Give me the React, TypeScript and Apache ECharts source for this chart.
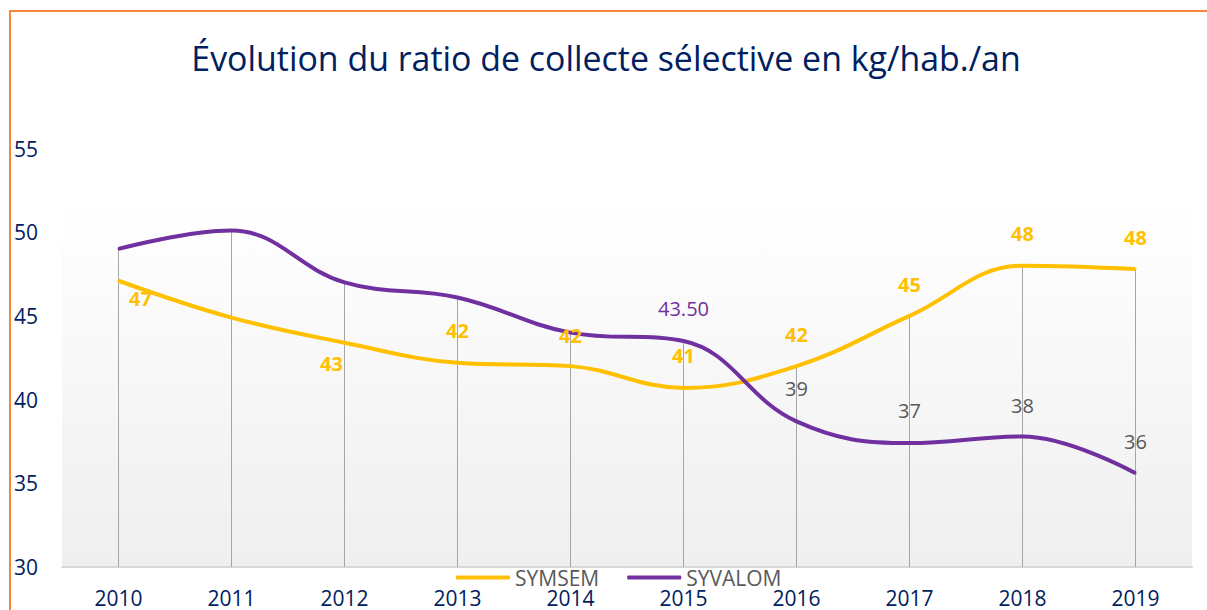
import React, { useEffect, useRef } from "react";
import * as echarts from "echarts";

// ---- Data ----
const years = ["2010", "2011", "2012", "2013", "2014", "2015", "2016", "2017", "2018", "2019"];
const symsem = [47.1, 44.9, 43.4, 42.2, 42.0, 40.7, 42.0, 45.0, 48.0, 47.8];
const syvalom = [49.0, 50.1, 47.0, 46.1, 44.0, 43.5, 38.7, 37.4, 37.8, 35.6];
const yMin = 30;
const yMax = 55;
const yStep = 5;
const titleText = "Évolution du ratio de collecte sélective en kg/hab./an";

// ---- Label placement (styling only) ----
const symsemLabelOffsets: ([number, number] | null)[] = [
  [22, 18], null, [-13, 21], [0, -32], [0, -31], [0, -32], [0, -32], [0, -31], [0, -32], [0, -32],
];
const syvalomLabelOffsets: ([number, number] | null)[] = [
  null, null, null, null, null, [0, -33], [0, -33], [0, -33], [0, -31], [0, -32],
];
const syvalomDecimals = [0, 0, 0, 0, 0, 2, 0, 0, 0, 0];

const FONT = "'Open Sans', 'Noto Sans', sans-serif";
const YELLOW = "#FFC000";
const PURPLE = "#7030A0";
const GRAY_TEXT = "#595959";
const NAVY = "#002060";

export default function App() {
  const ref = useRef<HTMLDivElement>(null);

  useEffect(() => {
    if (!ref.current) return;
    const chart = echarts.init(ref.current, null, { renderer: "svg" });

    const dropData = years.map((_, i) => [i, Math.max(symsem[i], syvalom[i])]);

    const symsemData = symsem.map((v, i) => {
      const off = symsemLabelOffsets[i];
      return {
        value: v,
        label: off
          ? { show: true, offset: off, formatter: v.toFixed(0) }
          : { show: false },
      };
    });
    const syvalomData = syvalom.map((v, i) => {
      const off = syvalomLabelOffsets[i];
      return {
        value: v,
        label: off
          ? {
              show: true,
              offset: off,
              formatter: v.toFixed(syvalomDecimals[i]),
              color: syvalomDecimals[i] > 0 ? PURPLE : GRAY_TEXT,
            }
          : { show: false },
      };
    });

    const option: any = {
      animation: false,
      backgroundColor: "#FFFFFF",
      textStyle: { fontFamily: FONT },
      graphic: [
        {
          type: "rect",
          z: -10,
          shape: { x: 62, y: 200, width: 1130, height: 367 },
          style: {
            fill: new echarts.graphic.LinearGradient(0, 0, 0, 1, [
              { offset: 0, color: "#FFFFFF" },
              { offset: 1, color: "#EFEFEF" },
            ]),
          },
          silent: true,
        },
        {
          type: "rect",
          shape: { x: 10, y: 11, width: 1400, height: 800 },
          style: { fill: "none", stroke: "#F4873E", lineWidth: 2 },
          silent: true,
        },
        {
          type: "text",
          x: 606,
          y: 58,
          style: {
            text: titleText,
            fontFamily: FONT,
            fontSize: 33.9,
            fill: NAVY,
            align: "center",
            verticalAlign: "middle",
          },
          silent: true,
        },
      ],
      legend: {
        data: ["SYMSEM", "SYVALOM"],
        left: 456,
        top: 567,
        padding: 0,
        itemGap: 28,
        itemWidth: 54,
        itemHeight: 4,
        icon: "roundRect",
        textStyle: { fontFamily: FONT, fontSize: 21, color: GRAY_TEXT, lineHeight: 21 },
      },
      grid: { left: 62, right: 15, top: 148.5, bottom: 43 },
      xAxis: {
        type: "category",
        data: years,
        boundaryGap: true,
        axisLine: { show: true, lineStyle: { color: "#D9D9D9", width: 2 } },
        axisTick: { show: false },
        splitLine: { show: false },
        axisLabel: {
          margin: 20,
          fontFamily: FONT,
          fontSize: 21,
          lineHeight: 21,
          color: NAVY,
        },
      },
      yAxis: {
        type: "value",
        min: yMin,
        max: yMax,
        interval: yStep,
        axisLine: { show: false },
        axisTick: { show: false },
        splitLine: { show: false },
        axisLabel: {
          align: "left",
          margin: 48,
          fontFamily: FONT,
          fontSize: 21,
          color: NAVY,
        },
      },
      series: [
        {
          type: "custom",
          z: 1,
          silent: true,
          data: dropData,
          renderItem: (params: any, api: any) => {
            const i = api.value(0);
            const top = api.coord([i, api.value(1)]);
            const bottom = api.coord([i, yMin]);
            return {
              type: "line",
              shape: { x1: top[0], y1: top[1], x2: bottom[0], y2: bottom[1] },
              style: { stroke: "#A6A6A6", lineWidth: 1 },
            };
          },
        },
        {
          name: "SYMSEM",
          type: "line",
          z: 3,
          smooth: 0.4,
          data: symsemData,
          symbol: "circle",
          symbolSize: 2,
          showSymbol: true,
          itemStyle: { color: YELLOW },
          lineStyle: { color: YELLOW, width: 4 },
          label: {
            show: true,
            position: "inside",
            fontFamily: FONT,
            fontSize: 20,
            fontWeight: "bold",
            color: YELLOW,
          },
        },
        {
          name: "SYVALOM",
          type: "line",
          z: 3,
          smooth: 0.4,
          data: syvalomData,
          symbol: "circle",
          symbolSize: 2,
          showSymbol: true,
          itemStyle: { color: PURPLE },
          lineStyle: { color: PURPLE, width: 4 },
          label: {
            show: true,
            position: "inside",
            fontFamily: FONT,
            fontSize: 20,
            color: GRAY_TEXT,
          },
        },
      ],
    };

    chart.setOption(option);
    return () => chart.dispose();
  }, []);

  return (
    <div
      ref={ref}
      style={{ position: "absolute", left: 0, top: 0, width: 1207, height: 610 }}
    />
  );
}
